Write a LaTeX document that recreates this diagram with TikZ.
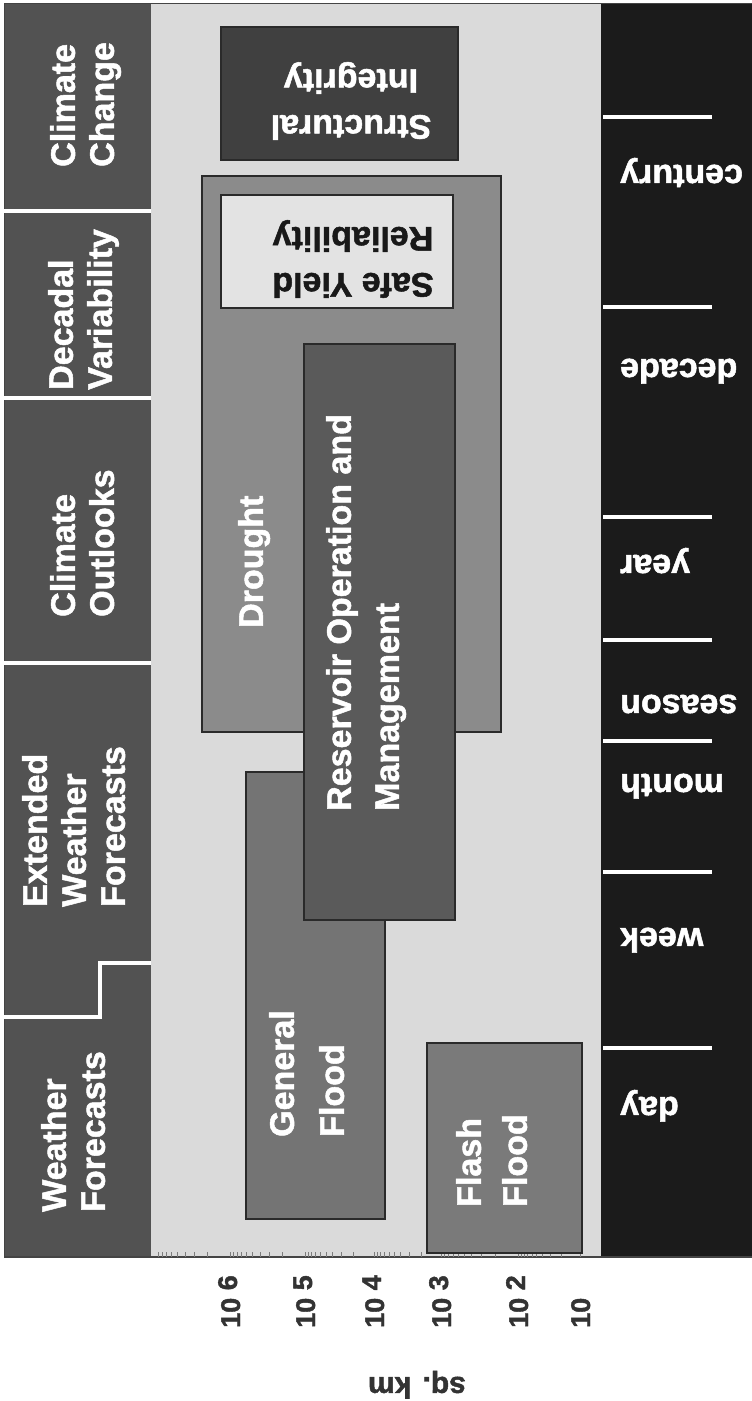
\documentclass[tikz,border=0pt]{standalone}
\usepackage{fontspec}
\setmainfont{Liberation Sans}[BoldFeatures={FakeBold=1.5}]
\definecolor{leftcol}{HTML}{525252}
\definecolor{plotbg}{HTML}{DADADA}
\definecolor{darkbar}{HTML}{1B1B1B}
\definecolor{droughtc}{HTML}{8B8B8B}
\definecolor{safec}{HTML}{E3E3E3}
\definecolor{generalc}{HTML}{747474}
\definecolor{reservc}{HTML}{5A5A5A}
\definecolor{structc}{HTML}{404040}
\definecolor{flashc}{HTML}{7A7A7A}
\definecolor{boxline}{HTML}{2A2A2A}
\definecolor{axtext}{HTML}{333333}
\definecolor{framecol}{HTML}{444444}
\begin{document}
\begin{tikzpicture}[x=1pt,y=1pt,
  lbl/.style={text=white,font=\bfseries\fontsize{34}{39}\selectfont,inner sep=0pt,rotate=90,align=left,anchor=north west},
  inlbl/.style={text=white,font=\bfseries\fontsize{34}{48}\selectfont,inner sep=0pt,rotate=90,align=left,anchor=north west},
  fliplbl/.style={font=\bfseries\fontsize{34}{46}\selectfont,inner sep=0pt,rotate=180,align=center},
  tlbl/.style={text=white,font=\bfseries\fontsize{34}{40}\selectfont,inner sep=0pt,rotate=180,anchor=base east},
  axl/.style={text=axtext,font=\bfseries\fontsize{27}{30}\selectfont,inner sep=0pt,rotate=90,anchor=base west},
  boxst/.style={draw=boxline,line width=1.3pt},
  sepline/.style={white,line width=4pt},
  tickline/.style={white,line width=4pt},
  axtick/.style={draw=framecol!70,line width=0.5pt}]

\useasboundingbox (0,0) rectangle (752,-1401);
\fill[white] (0,0) rectangle (752,-1401);

% main regions
\fill[leftcol] (4,-3) rectangle (151,-1257);
\fill[plotbg] (151,-3) rectangle (601,-1257);
\fill[darkbar] (601,-3) rectangle (752,-1257);
\draw[framecol,line width=1pt] (4,-1257) -- (4,-3) -- (752,-3);
\draw[framecol,line width=1.2pt] (4,-1257) -- (752,-1257);

% minor ticks on the area axis
\foreach \a/\b in {580/518,518/441,441/374,374/305,305/230,230/155}
  \foreach \m in {1,...,9}
    \draw[axtick] ({\a+(\b-\a)*ln(\m)/2.302585},-1257) -- ++(0,5);

% separators in the forecast column
\draw[sepline] (4,-211) -- (151,-211);
\draw[sepline] (4,-398) -- (151,-398);
\draw[sepline] (4,-663) -- (151,-663);
\draw[sepline] (4,-1017) -- (100,-1017) -- (100,-963) -- (151,-963);

% time ticks
\foreach \yy in {117,307,517,640,741,872,1048}
  \draw[tickline] (603,-\yy) -- (712,-\yy);

% boxes
\filldraw[boxst,fill=droughtc] (202,-176) rectangle (501,-732);
\filldraw[boxst,fill=safec] (221,-195) rectangle (453,-308);
\filldraw[boxst,fill=generalc] (246,-772) rectangle (385,-1219);
\filldraw[boxst,fill=reservc] (304,-344) rectangle (455,-920);
\filldraw[boxst,fill=structc] (221,-27) rectangle (458,-160);
\filldraw[boxst,fill=flashc] (427,-1043) rectangle (582,-1253);

% forecast column labels
\node[lbl] (cc) at (50,-167) {Climate\\Change};
\node[lbl] (dv) at (48,-390) {Decadal\\Variability};
\node[lbl] (co) at (50,-617) {Climate\\Outlooks};
\node[lbl] (ewf) at (22,-907) {Extended\\Weather\\Forecasts};
\node[lbl] (wf) at (41,-1212) {Weather\\Forecasts};

% box labels
\node[inlbl] (dr) at (238,-628) {Drought};
\node[inlbl] (rom) at (326,-811) {Reservoir Operation and\\Management};
\node[inlbl,font=\bfseries\fontsize{34}{50}\selectfont] (gf) at (269,-1137) {General\\Flood};
\node[inlbl,font=\bfseries\fontsize{34}{46}\selectfont] (ff) at (456,-1207) {Flash\\Flood};
\node[fliplbl,text=white] (si) at (351,-101) {Structural\\Integrity};
\node[fliplbl,text=black!90] (syr) at (353,-259) {Safe Yield\\Reliability};

% time labels
\node[tlbl] (tcen) at (620,-165) {century};
\node[tlbl] (tdec) at (620,-359) {decade};
\node[tlbl] (tyr) at (620,-555) {year};
\node[tlbl] (tsea) at (620,-695) {season};
\node[tlbl] (tmon) at (620,-774) {month};
\node[tlbl] (twk) at (620,-928) {week};
\node[tlbl] (tday) at (620,-1097) {day};

% area axis labels
\node[axl] (a6) at (240,-1328) {10 \raisebox{3pt}{6}};
\node[axl] (a5) at (315,-1328) {10 \raisebox{3pt}{5}};
\node[axl] (a4) at (384,-1328) {10 \raisebox{3pt}{4}};
\node[axl] (a3) at (451,-1328) {10 \raisebox{3pt}{3}};
\node[axl] (a2) at (528,-1328) {10 \raisebox{3pt}{2}};
\node[axl] (a1) at (590,-1328) {10};
\node[text=axtext,font=\bfseries\fontsize{30}{34}\selectfont,inner sep=0pt,rotate=180,anchor=base] (sqkm) at (417,-1377) {sq. km};
\end{tikzpicture}
\end{document}
